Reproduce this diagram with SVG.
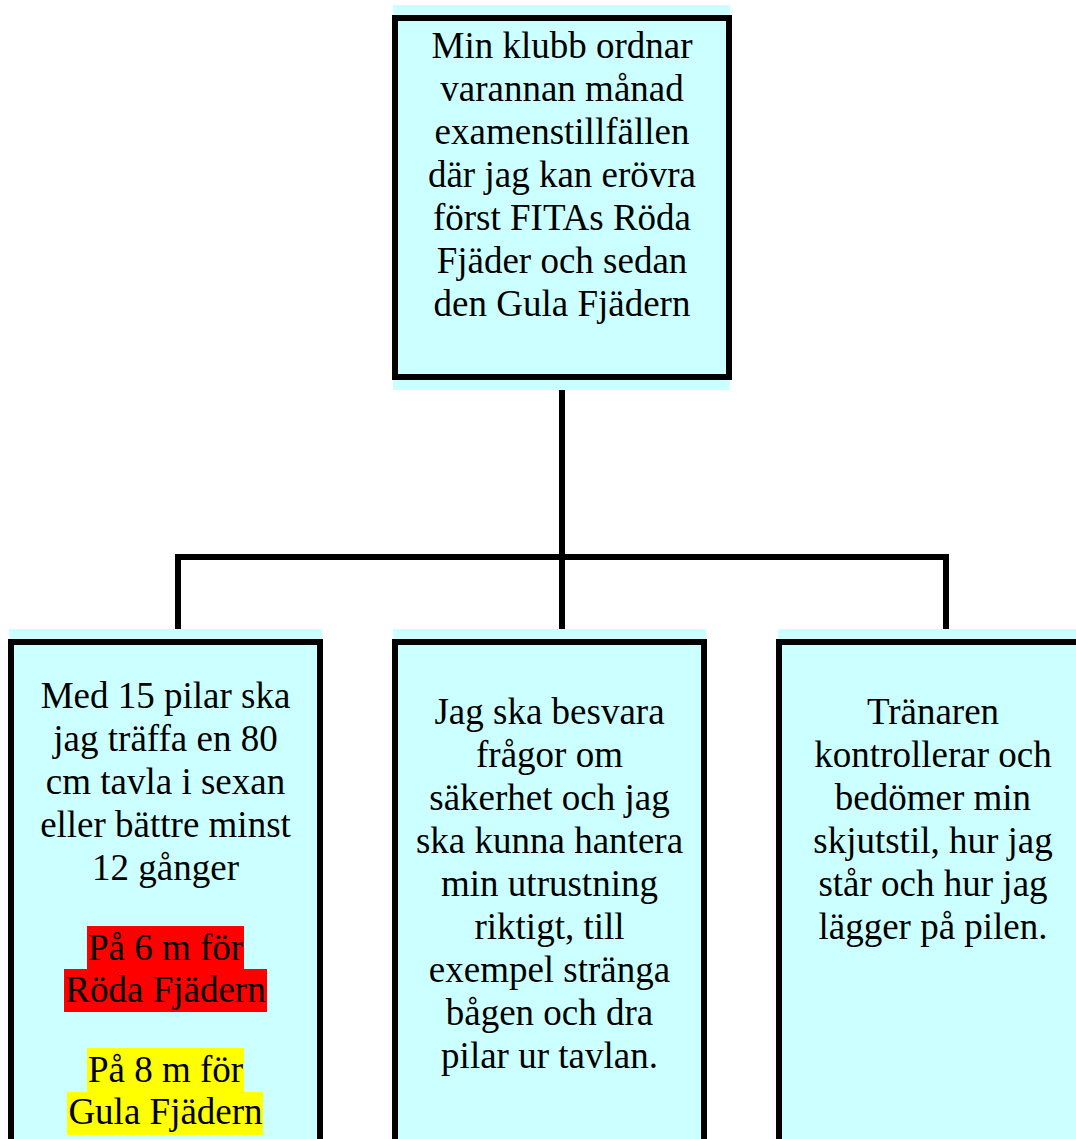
<svg xmlns="http://www.w3.org/2000/svg" width="1076" height="1139" viewBox="0 0 1076 1139">
<style>
.bg{fill:#ccffff}
.bd{fill:none;stroke:#000;stroke-width:6}
.t{font-family:"Liberation Serif","Times New Roman",serif;font-size:37px;fill:#000;text-anchor:middle}
.c{fill:none;stroke:#000;stroke-width:6}
</style>
<rect width="1076" height="1139" fill="#fff"/>
<g id="connectors">
<path class="c" d="M562 390V630M178 630V557H946V630"/>
</g>
<g id="top">
<rect class="bg" x="393" y="5" width="337" height="385"/>
<rect class="bd" x="395" y="18" width="334" height="359"/>
<text class="t" x="562" y="58">Min klubb ordnar</text>
<text class="t" x="562" y="101">varannan månad</text>
<text class="t" x="562" y="144">examenstillfällen</text>
<text class="t" x="562" y="187">där jag kan erövra</text>
<text class="t" x="562" y="230">först FITAs Röda</text>
<text class="t" x="562" y="273">Fjäder och sedan</text>
<text class="t" x="562" y="316">den Gula Fjädern</text>
</g>
<g id="left">
<rect class="bg" x="9" y="629" width="313" height="515"/>
<rect class="bd" x="11" y="642" width="309" height="510"/>
<text class="t" x="165.5" y="708">Med 15 pilar ska</text>
<text class="t" x="165.5" y="751">jag träffa en 80</text>
<text class="t" x="165.5" y="794">cm tavla i sexan</text>
<text class="t" x="165.5" y="837">eller bättre minst</text>
<text class="t" x="165.5" y="880">12 gånger</text>
<rect x="87" y="926" width="157" height="44" fill="#ff0000"/>
<rect x="64" y="969" width="203" height="43" fill="#ff0000"/>
<text class="t" x="165.5" y="960">På 6 m för</text>
<text class="t" x="165.5" y="1002">Röda Fjädern</text>
<rect x="87" y="1048" width="157" height="45" fill="#ffff00"/>
<rect x="67" y="1092" width="196" height="43" fill="#ffff00"/>
<text class="t" x="165.5" y="1082">På 8 m för</text>
<text class="t" x="165.5" y="1124">Gula Fjädern</text>
</g>
<g id="middle">
<rect class="bg" x="393" y="629" width="313" height="515"/>
<rect class="bd" x="395" y="642" width="309" height="510"/>
<text class="t" x="549.5" y="724">Jag ska besvara</text>
<text class="t" x="549.5" y="767">frågor om</text>
<text class="t" x="549.5" y="810">säkerhet och jag</text>
<text class="t" x="549.5" y="853">ska kunna hantera</text>
<text class="t" x="549.5" y="896">min utrustning</text>
<text class="t" x="549.5" y="939">riktigt, till</text>
<text class="t" x="549.5" y="982">exempel stränga</text>
<text class="t" x="549.5" y="1025">bågen och dra</text>
<text class="t" x="549.5" y="1068">pilar ur tavlan.</text>
</g>
<g id="right">
<rect class="bg" x="778" y="629" width="313" height="515"/>
<rect class="bd" x="779" y="642" width="309" height="510"/>
<text class="t" x="933" y="724">Tränaren</text>
<text class="t" x="933" y="767">kontrollerar och</text>
<text class="t" x="933" y="810">bedömer min</text>
<text class="t" x="933" y="853">skjutstil, hur jag</text>
<text class="t" x="933" y="896">står och hur jag</text>
<text class="t" x="933" y="939">lägger på pilen.</text>
</g>
</svg>
